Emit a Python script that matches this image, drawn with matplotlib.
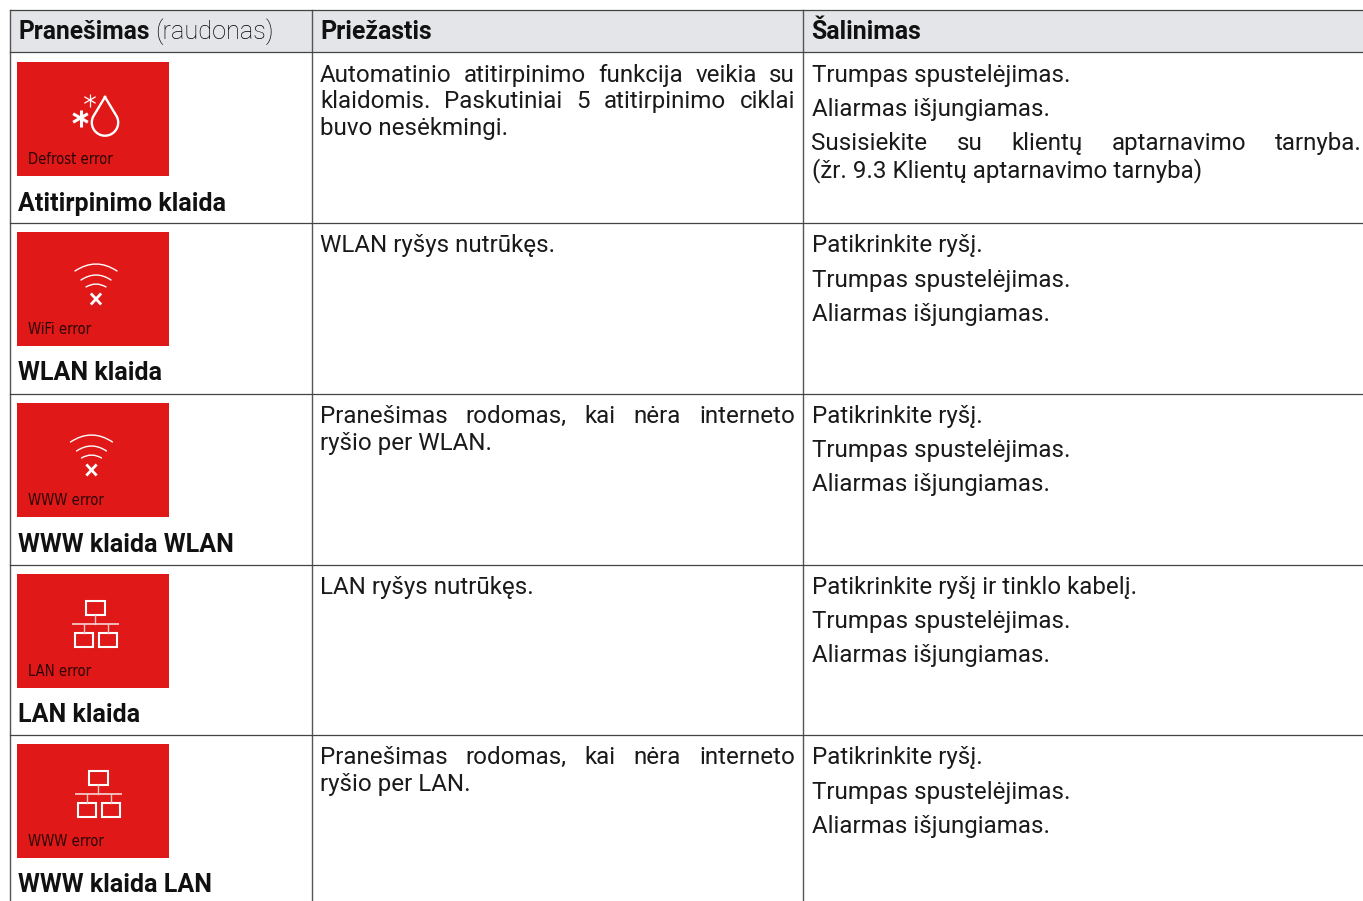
import matplotlib
matplotlib.use('Agg')
import matplotlib.pyplot as plt
from matplotlib.patches import Rectangle, PathPatch
from matplotlib.path import Path
import numpy as np

W, H = 1363, 901
FONT = 'Roboto'
BODY = 17.4
BOLD = 18.0
RED = '#e01818'

headers = ['Priežastis', 'Šalinimas']
row_tops = [52, 223, 394, 565, 735]
box_tops = [62, 232, 403, 574, 744]
titles = ['Atitirpinimo klaida', 'WLAN klaida', 'WWW klaida WLAN', 'LAN klaida', 'WWW klaida LAN']
captions = ['Defrost error', 'WiFi error', 'WWW error', 'LAN error', 'WWW error']
icons = ['defrost', 'wifi', 'wifi', 'lan', 'lan']
icon_dx = [0, 0, -4.5, 0, 3]

# (text, y centre, justified)
cause_lines = [
    [('Automatinio atitirpinimo funkcija veikia su', 74, True),
     ('klaidomis. Paskutiniai 5 atitirpinimo ciklai', 100, True),
     ('buvo nesėkmingi.', 127, False)],
    [('WLAN ryšys nutrūkęs.', 244, False)],
    [('Pranešimas rodomas, kai nėra interneto', 415, True),
     ('ryšio per WLAN.', 442, False)],
    [('LAN ryšys nutrūkęs.', 586, False)],
    [('Pranešimas rodomas, kai nėra interneto', 756, True),
     ('ryšio per LAN.', 783, False)],
]
fix_lines = [
    [('Trumpas spustelėjimas.', 74, False), ('Aliarmas išjungiamas.', 108, False),
     ('Susisiekite su klientų aptarnavimo tarnyba.', 142, True),
     ('(žr. 9.3 Klientų aptarnavimo tarnyba)', 169, False)],
    [('Patikrinkite ryšį.', 244, False), ('Trumpas spustelėjimas.', 279, False),
     ('Aliarmas išjungiamas.', 313, False)],
    [('Patikrinkite ryšį.', 415, False), ('Trumpas spustelėjimas.', 449, False),
     ('Aliarmas išjungiamas.', 483, False)],
    [('Patikrinkite ryšį ir tinklo kabelį.', 586, False), ('Trumpas spustelėjimas.', 620, False),
     ('Aliarmas išjungiamas.', 654, False)],
    [('Patikrinkite ryšį.', 756, False), ('Trumpas spustelėjimas.', 791, False),
     ('Aliarmas išjungiamas.', 825, False)],
]

fig = plt.figure(figsize=(W / 100, H / 100), dpi=100)
ax = fig.add_axes([0, 0, 1, 1])
ax.set_xlim(0, W)
ax.set_ylim(H, 0)
ax.axis('off')
rend = fig.canvas.get_renderer()


def put(x, y, s, **kw):
    kw.setdefault('family', FONT)
    kw.setdefault('fontsize', BODY)
    kw.setdefault('color', '#1a1a1a')
    return ax.text(x, y, s, va='baseline', ha='left', **kw)


def text_w(s, **kw):
    t = put(0, 0, s, **kw)
    w = t.get_window_extent(rend).width
    t.remove()
    return w


def write_line(x0, x1, yc, s, just):
    base = yc + 8
    if not just:
        put(x0, base, s)
        return
    words = s.split(' ')
    widths = [text_w(w) for w in words]
    gap = (x1 - x0 - sum(widths)) / (len(words) - 1)
    x = x0
    for w, wd in zip(words, widths):
        put(x, base, w)
        x += wd + gap


def arc(x0, x1, y_end, y_top):
    # quadratic curve, control point pulled up so the apex hits y_top
    ctrl_y = 2 * y_top - y_end
    p = Path([(x0, y_end), ((x0 + x1) / 2, ctrl_y), (x1, y_end)], [Path.MOVETO, Path.CURVE3, Path.CURVE3])
    ax.add_patch(PathPatch(p, fc='none', ec='white', lw=1.0, capstyle='round'))


def star(cx, cy, r, lw):
    for a in [90, 30, -30]:
        dx, dy = r * np.cos(np.radians(a)), r * np.sin(np.radians(a))
        ax.plot([cx - dx, cx + dx], [cy - dy, cy + dy], color='white', lw=lw, solid_capstyle='butt')


def draw_defrost(bt):
    star(90, bt + 38, 6.5, 0.9)
    star(80.5, bt + 56, 8.5, 2.2)
    t = np.radians(np.linspace(-35, 215, 60))
    cx, cy, r = 105, bt + 60.5, 13.2
    xs = cx + r * np.cos(t)
    ys = cy + r * np.sin(t)
    # xs runs along the bottom of the circle, tip closes the drop
    xs = np.concatenate([[cx], xs, [cx]])
    ys = np.concatenate([[bt + 35], ys, [bt + 35]])
    ax.plot(xs, ys, color='white', lw=1.7, solid_joinstyle='miter')


def draw_wifi(bt, dx):
    c = 96 + dx
    arc(c - 21, c + 21, bt + 39, bt + 32)
    arc(c - 15, c + 15, bt + 48, bt + 43)
    arc(c - 10, c + 10, bt + 55, bt + 52)
    m = 4.2
    ax.plot([c - m, c + m], [bt + 62.5, bt + 71.5], color='white', lw=2.0)
    ax.plot([c - m, c + m], [bt + 71.5, bt + 62.5], color='white', lw=2.0)


def draw_lan(bt, dx):
    def box(x0, x1, y0, y1):
        ax.add_patch(Rectangle((x0 + dx, bt + y0), x1 - x0, y1 - y0, fc='none', ec='white', lw=1.5))
    box(86, 104.5, 27, 41)
    box(75, 92.5, 58.5, 73)
    box(98.5, 116.5, 58.5, 73)
    ax.plot([72 + dx, 119 + dx], [bt + 50, bt + 50], color='#f7c5c5', lw=1.3, solid_capstyle='butt')
    for x, y0, y1 in [(95, 41, 50), (84, 50, 58.5), (107.5, 50, 58.5)]:
        ax.plot([x + dx, x + dx], [bt + y0, bt + y1], color='#f7c5c5', lw=1.0)


# header band
ax.add_patch(Rectangle((10, 10), W - 10, 42, fc='#e4e5e8', ec='none', zorder=0))

# grid
for x in [10, 311.7, 803]:
    ax.plot([x, x], [10, H], color='#555555', lw=1.0, zorder=3)
for y in [10, 52, 223, 394, 564.6, 735]:
    ax.plot([10, W], [y, y], color='#444444', lw=0.9, zorder=3)

# header text
put(18, 39, 'Pranešimas', fontweight='bold', color='#111111', fontsize=17.7)
put(155, 39, '(raudonas)', color='#000000', fontweight='light', fontsize=18.2)
put(320.5, 39, headers[0], fontweight='bold', color='#111111', fontsize=17.9)
put(811.5, 39, headers[1], fontweight='bold', color='#111111', fontsize=17.9)

# caption font: condensed if the system has it, size fitted to the label width
cap_kw = dict(family='DejaVu Sans', fontstretch='condensed')
cap_size = 10 * 85 / text_w(captions[0], fontsize=10, **cap_kw)

for i, bt in enumerate(box_tops):
    ax.add_patch(Rectangle((17, bt), 152, 114, fc=RED, ec='none'))
    if icons[i] == 'defrost':
        draw_defrost(bt)
    elif icons[i] == 'wifi':
        draw_wifi(bt, icon_dx[i])
    else:
        draw_lan(bt, icon_dx[i])
    put(28, bt + 102, captions[i], color='#2a0505', fontsize=cap_size, **cap_kw)
    put(17.7, bt + 148.5, titles[i], fontweight='bold', color='#111111', fontsize=BOLD)
    for s, yc, just in cause_lines[i]:
        write_line(320, 795, yc, s, just)
    for s, yc, just in fix_lines[i]:
        write_line(811.5, 1362, yc, s, just)

fig.savefig('out.png', dpi=100, facecolor='white')
